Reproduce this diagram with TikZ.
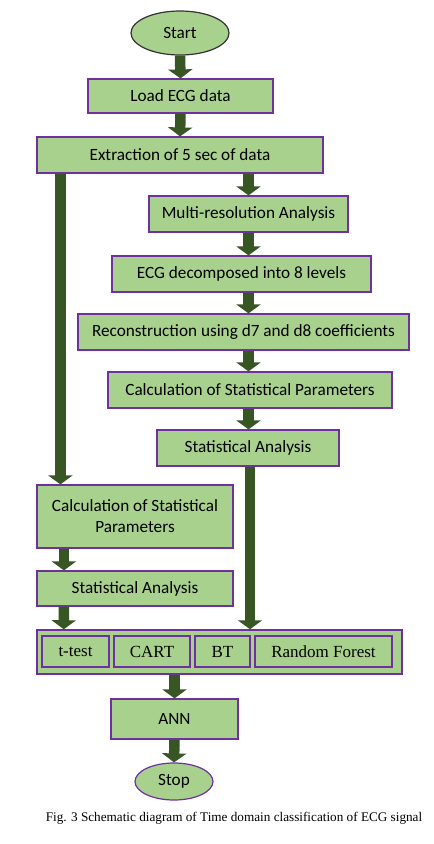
\documentclass[tikz,border=0pt]{standalone}
\usepackage{fontspec}
\setmainfont{Carlito}
\newfontfamily\serifcls{Liberation Serif}
\usetikzlibrary{arrows.meta,shapes.geometric,calc}
\definecolor{boxgreen}{HTML}{A9D18E}
\definecolor{boxpurple}{HTML}{7030A0}
\definecolor{arrowgreen}{HTML}{375623}
\tikzset{
  box/.style={draw=boxpurple,line width=1.2pt,fill=boxgreen,inner sep=0pt,align=center,
    font=\fontsize{17.2}{21}\selectfont},
  term/.style={ellipse,draw=boxpurple,line width=1.2pt,fill=boxgreen,inner sep=0pt,
    font=\fontsize{17.2}{21}\selectfont},
  inbox/.style={draw=boxpurple,line width=1.8pt,fill=boxgreen,inner sep=0pt,
    minimum height=31pt,font=\serifcls\fontsize{17}{21}\selectfont},
  fat/.style={draw=arrowgreen,line width=10.5pt,-{Triangle[width=24pt,length=9pt]}},
}
\begin{document}
\begin{tikzpicture}[x=1pt,y=1pt]
\useasboundingbox (0,0) rectangle (434,-844);
\node[term,draw=black!80,minimum width=98pt,minimum height=44pt] (start) at (180,-33) {Start};
\node[box,minimum width=185pt,minimum height=34pt] (load) at (180.5,-96) {Load ECG data};
\node[box,minimum width=286pt,minimum height=36pt] (extract) at (180,-155) {Extraction of 5 sec of data};
\node[box,minimum width=199pt,minimum height=36pt] (multi) at (248.5,-214) {Multi-resolution Analysis};
\node[box,minimum width=259pt,minimum height=36pt] (decomp) at (241.5,-274) {ECG decomposed into 8 levels};
\node[box,minimum width=331pt,minimum height=36pt] (recon) at (243.5,-332) {Reconstruction using d7 and d8 coefficients};
\node[box,minimum width=284pt,minimum height=36pt] (rcalc) at (250,-390) {Calculation of Statistical Parameters};
\node[box,minimum width=182pt,minimum height=36pt] (rstat) at (248,-448) {Statistical Analysis};
\node[box,minimum width=196pt,minimum height=63pt] (lcalc) at (135,-516.5) {Calculation of Statistical\\Parameters};
\node[box,minimum width=196pt,minimum height=35pt] (lstat) at (135,-588.5) {Statistical Analysis};
\node[box,line width=1.5pt,minimum width=365pt,minimum height=44pt] (class) at (219.5,-652) {};
\node[inbox,minimum width=67pt] (ttest) at (75.5,-651.5) {t-test};
\node[inbox,minimum width=76pt] (cart) at (152,-651.5) {CART};
\node[inbox,minimum width=55pt] (bt) at (222.5,-651.5) {BT};
\node[inbox,minimum width=137pt] (rf) at (323.5,-651.5) {Random Forest};
\node[box,minimum width=127pt,minimum height=40pt] (ann) at (174.5,-719) {ANN};
\node[term,minimum width=78pt,minimum height=37pt] (stop) at (174,-781.5) {Stop};
\node[font=\serifcls\fontsize{13.2}{16}\selectfont] (cap) at (234,-818) {Fig. 3 Schematic diagram of Time domain classification of ECG signal};
% arrows
\draw[fat] (start.south) -- (load.north);
\draw[fat] (load.south) -- (extract.south |- extract.north);
\draw[fat] (extract.south -| multi.north) -- (multi.north);
\draw[fat] ($(extract.south west)+(24,0)$) -- ($(lcalc.north west)+(24,0)$);
\draw[fat] (multi.south) -- (multi.south |- decomp.north);
\draw[fat] (multi.south |- decomp.south) -- (multi.south |- recon.north);
\draw[fat] (multi.south |- recon.south) -- (multi.south |- rcalc.north);
\draw[fat] (multi.south |- rcalc.south) -- (multi.south |- rstat.north);
\draw[fat] ($(rstat.south)+(2,0)$) -- ($(rstat.south |- class.north)+(2,0)$);
\draw[fat] ($(lcalc.south west)+(27.5,0)$) -- ($(lstat.north west)+(27.5,0)$);
\draw[fat] ($(lstat.south west)+(27.5,0)$) -- ($(class.north west)+(27.5,0)$);
\draw[fat] (class.south -| ann.north) -- (ann.north);
\draw[fat] (ann.south) -- (stop.north);
\end{tikzpicture}
\end{document}
